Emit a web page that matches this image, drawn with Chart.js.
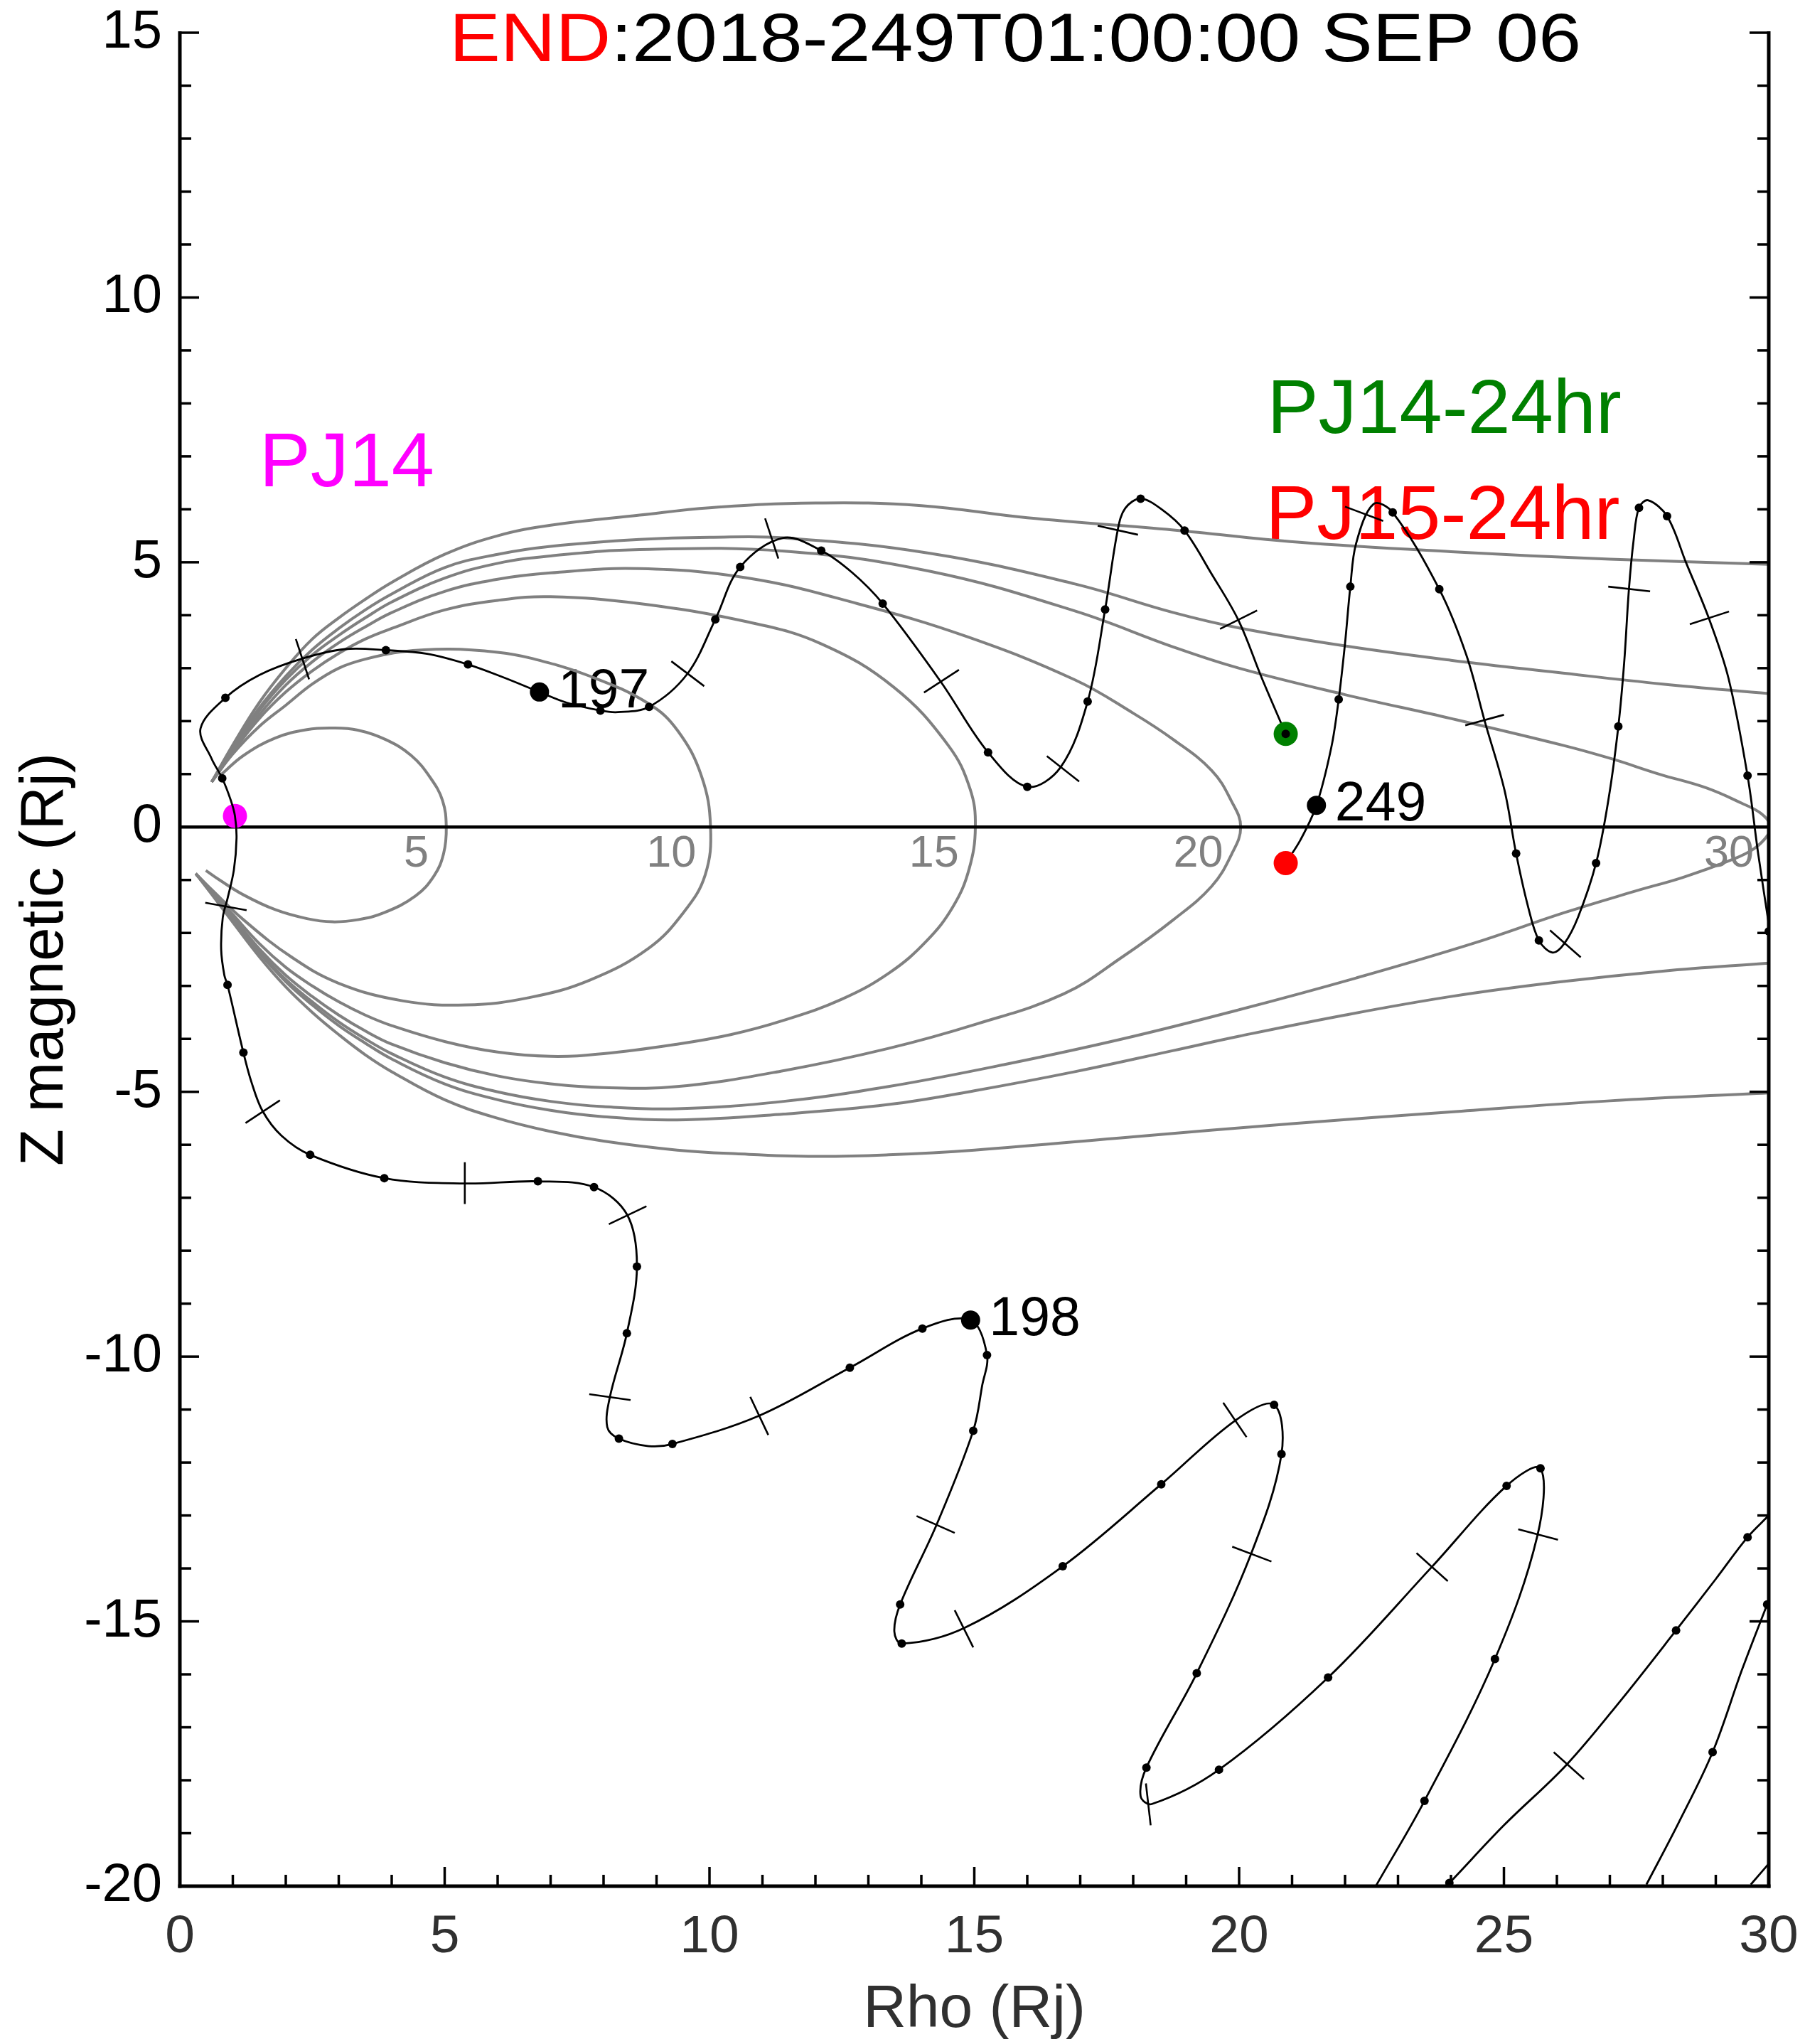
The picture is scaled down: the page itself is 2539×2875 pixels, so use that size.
<!DOCTYPE html>
<html>
<head>
<meta charset="utf-8">
<script src="https://cdn.jsdelivr.net/npm/chart.js@4.4.1/dist/chart.umd.min.js"></script>
<style>
  html, body { margin: 0; padding: 0; background: #fff; }
  canvas { display: block; }
</style>
</head>
<body>
<canvas id="orbitChart" width="2539" height="2875"></canvas>
<script>
// field lines, [rho, z] pairs
const fieldL5 = [[0.78,0.99],[1.2,1.35],[1.8,1.68],[2.4,1.84],[2.88,1.87],[3.36,1.83],[3.89,1.65],[4.37,1.35],[4.73,0.93],[4.96,0.5],[5.03,0],
  [4.98,-0.5],[4.8,-0.92],[4.45,-1.3],[3.85,-1.62],[3.36,-1.75],[2.88,-1.79],[2.4,-1.73],[1.8,-1.56],[1.2,-1.28],[0.75,-1.0],[0.49,-0.82]];
const fieldL10 = [[0.6,0.85],[1.0,1.38],[1.5,1.9],[2.0,2.3],[2.5,2.7],[3.0,3.0],[3.5,3.17],[4.19,3.31],[5.09,3.36],[6.0,3.3],[6.62,3.19],[7.74,2.85],[8.85,2.33],[9.4,1.82],[9.85,0.96],[10.02,0],
  [9.92,-0.9],[9.52,-1.6],[8.85,-2.29],[7.74,-2.89],[6.6,-3.22],[5.4,-3.36],[4.2,-3.28],[3.0,-2.95],[2.1,-2.45],[1.2,-1.75],[0.6,-1.18],[0.3,-0.88]];
const fieldL15 = [[0.6,0.85],[1.0,1.42],[1.5,2.05],[2.0,2.55],[2.5,2.95],[3.0,3.28],[3.5,3.55],[4.0,3.75],[5.0,4.1],[6.0,4.28],[7.0,4.35],[8.68,4.22],[10.74,3.87],[12.11,3.46],[13.48,2.64],[14.51,1.54],[14.92,0.72],[15.02,0],
  [14.9,-0.8],[14.6,-1.5],[14.1,-2.15],[13.4,-2.75],[12.5,-3.25],[11.4,-3.65],[10.4,-3.92],[9.39,-4.1],[8.0,-4.28],[7.0,-4.33],[6.0,-4.25],[5.0,-4.05],[4.0,-3.75],[3.5,-3.55],[3.0,-3.3],[2.5,-3.0],[2.0,-2.65],[1.5,-2.2],[1.0,-1.65],[0.6,-1.2],[0.3,-0.88]];
const fieldL20 = [[0.6,0.85],[1.0,1.45],[1.5,2.12],[2.0,2.68],[2.5,3.12],[3.0,3.48],[3.5,3.78],[4.0,4.05],[5.0,4.45],[6.0,4.68],[7.0,4.8],[8.68,4.88],[10.74,4.7],[12.79,4.22],[14.85,3.6],[16.9,2.78],[18.0,2.15],[18.76,1.65],[19.48,1.07],[19.85,0.5],[20.03,0],
  [19.85,-0.53],[19.48,-1.12],[18.76,-1.75],[17.8,-2.45],[16.69,-3.15],[15.04,-3.72],[13.38,-4.18],[11.4,-4.6],[9.39,-4.9],[8.0,-4.92],[7.0,-4.85],[6.0,-4.7],[5.0,-4.45],[4.0,-4.1],[3.5,-3.85],[3.0,-3.55],[2.5,-3.2],[2.0,-2.8],[1.5,-2.3],[1.0,-1.7],[0.6,-1.22],[0.3,-0.88]];
const fieldL30 = [[0.6,0.85],[1.0,1.48],[1.5,2.2],[2.0,2.78],[2.5,3.25],[3.0,3.62],[3.5,3.95],[4.0,4.25],[5.0,4.7],[6.0,4.98],[7.0,5.12],[8.68,5.24],[11.42,5.21],[14.16,4.83],[16.9,4.08],[18.76,3.4],[20.0,3.0],[22.0,2.5],[24.0,2.05],[26.13,1.54],[27.03,1.29],[27.93,1.0],[28.82,0.74],[29.49,0.45],[29.85,0.26],[30.03,0.04],
  [29.99,-0.14],[29.72,-0.41],[29.27,-0.63],[28.38,-0.95],[27.48,-1.21],[26.13,-1.62],[24.41,-2.2],[22.21,-2.85],[20.0,-3.45],[17.8,-4.0],[15.59,-4.48],[13.38,-4.9],[11.4,-5.18],[9.39,-5.32],[8.0,-5.28],[7.0,-5.18],[6.0,-5.0],[5.0,-4.72],[4.0,-4.28],[3.5,-4.0],[3.0,-3.68],[2.5,-3.3],[2.0,-2.88],[1.5,-2.35],[1.0,-1.73],[0.6,-1.24],[0.3,-0.88]];
const fieldOpenNorthA = [[0.6,0.85],[1.0,1.5],[1.5,2.25],[2.0,2.85],[2.5,3.35],[3.0,3.75],[3.5,4.1],[4.0,4.4],[5.0,4.9],[6.0,5.15],[7.0,5.3],[8.68,5.43],[10.0,5.47],[11.42,5.46],[14.16,5.17],[16.9,4.59],[18.76,4.05],[20.0,3.76],[22.0,3.42],[24.0,3.15],[26.0,2.92],[28.0,2.7],[30.0,2.52]];
const fieldOpenSouthA = [[0.3,-0.88],[0.6,-1.25],[1.0,-1.75],[1.5,-2.38],[2.0,-2.92],[2.5,-3.36],[3.0,-3.75],[3.5,-4.08],[4.0,-4.38],[5.0,-4.85],[6.0,-5.15],[7.0,-5.35],[8.0,-5.47],[9.39,-5.53],[11.4,-5.42],[13.38,-5.24],[15.0,-4.98],[16.9,-4.62],[18.76,-4.22],[20.0,-3.95],[22.0,-3.55],[24.0,-3.2],[26.0,-2.93],[28.0,-2.72],[30.0,-2.57]];
const fieldOpenNorthB = [[0.6,0.85],[1.0,1.55],[1.5,2.35],[2.0,3.0],[2.5,3.55],[3.0,3.95],[3.5,4.3],[4.0,4.62],[5.0,5.15],[6.0,5.5],[7.0,5.7],[8.68,5.89],[10.0,6.03],[12.0,6.12],[14.0,6.07],[16.0,5.84],[18.76,5.61],[21.1,5.38],[24.0,5.2],[27.0,5.06],[30.0,4.96]];
const fieldOpenSouthB = [[0.3,-0.88],[0.6,-1.27],[1.0,-1.8],[1.5,-2.45],[2.0,-3.02],[2.5,-3.5],[3.0,-3.92],[3.5,-4.3],[4.0,-4.62],[5.0,-5.15],[6.0,-5.5],[7.0,-5.75],[8.0,-5.93],[9.39,-6.1],[10.5,-6.17],[12.0,-6.22],[13.38,-6.19],[15.0,-6.1],[18.0,-5.85],[21.0,-5.6],[24.0,-5.38],[27.0,-5.17],[30.0,-5.02]];

const fieldLabels = ['5', '10', '15', '20', '30'];
const fieldLabelX = [4.70, 9.75, 14.71, 19.70, 29.72];
const fieldLabelY = -0.51;

const equatorLine = [[0, 0], [30, 0]];

// Juno trajectory, split where it leaves the frame
const orbitFromPJ14 = [[20.88,1.76],[20.43,2.81],[19.99,3.90],[19.48,4.78],[18.97,5.60],[18.55,5.99],[18.14,6.20],[17.85,6.02],[17.71,5.62],[17.47,4.11],[17.14,2.37],[16.63,1.13],[16.0,0.76],[15.26,1.41],[14.37,2.74],[13.27,4.22],[12.7,4.8],[12.11,5.22],[11.39,5.46],[10.58,4.91],[10.11,3.92],[9.58,2.89],[8.86,2.27],[8.27,2.17],[7.94,2.20],[7.3,2.35],[6.79,2.55],[6.1,2.83],[5.44,3.07],[4.67,3.27],[3.89,3.34],[3.12,3.36],[2.31,3.18],[1.5,2.87],[0.86,2.44],[0.39,1.86],[0.60,1.29],[0.80,0.92],[0.96,0.51],[1.04,0.21],[1.07,-0.21],[1.02,-0.81],[0.90,-1.35],[0.81,-1.71],[0.78,-2.31],[0.84,-2.80],[0.90,-2.98],[1.20,-4.26],[1.35,-4.81],[1.56,-5.36],[1.92,-5.83],[2.46,-6.19],[3.86,-6.63],[5.38,-6.73],[6.76,-6.69],[7.82,-6.80],[8.45,-7.33],[8.63,-8.30],[8.44,-9.56],[8.12,-10.76],[8.07,-11.33],[8.29,-11.55],[8.85,-11.69],[9.30,-11.65],[10.93,-11.12],[12.65,-10.21],[14.02,-9.47],[14.93,-9.31],[15.24,-9.97],[15.15,-10.54],[14.98,-11.40],[14.29,-13.17],[13.60,-14.68],[13.49,-15.19],[13.63,-15.42],[14.82,-15.12],[16.67,-13.96],[18.53,-12.41],[19.95,-11.19],[20.66,-10.91],[20.80,-11.84],[20.22,-13.74],[19.20,-15.98],[18.25,-17.76],[18.14,-18.3],[18.35,-18.45],[19.62,-17.80],[21.68,-16.06],[23.64,-13.97],[25.05,-12.44],[25.69,-12.11],[25.63,-13.39],[24.83,-15.71],[23.50,-18.39],[22.58,-20.0]];
const orbitReentry1 = [[23.9,-20.0],[23.97,-19.94],[25.0,-18.85],[26.18,-17.71],[27.2,-16.5],[28.25,-15.17],[29.0,-14.2],[29.60,-13.41],[30.0,-13.0]];
const orbitReentry2 = [[30.02,-14.55],[29.97,-14.68],[29.5,-15.9],[28.94,-17.47],[28.3,-18.8],[27.69,-19.97]];
const orbitCorner = [[29.66,-19.97],[30.04,-19.53]];
const orbitToPJ15 = [[30.02,-1.96],[29.80,-0.50],[29.60,0.97],[29.24,2.81],[28.87,3.94],[28.44,4.99],[28.08,5.87],[27.72,6.17],[27.55,6.03],[27.45,5.43],[27.36,4.49],[27.27,3.10],[27.16,1.90],[26.98,0.56],[26.74,-0.68],[26.40,-1.70],[26.14,-2.20],[25.92,-2.37],[25.66,-2.14],[25.45,-1.48],[25.23,-0.50],[25.01,0.70],[24.64,1.99],[24.29,3.25],[23.78,4.49],[22.90,5.94],[22.54,6.10],[22.21,5.36],[22.10,4.54],[22.0,3.47],[21.88,2.41],[21.74,1.50],[21.46,0.41],[21.16,-0.24],[20.88,-0.68]];

// cross ticks on the orbit: [x1, y1, x2, y2]
const orbitTicks = [
  [2.19,3.55,2.44,2.79],[0.48,-1.43,1.26,-1.57],[1.24,-5.59,1.89,-5.16],[5.38,-6.33,5.38,-7.12],[8.10,-7.50,8.81,-7.16],
  [7.73,-10.71,8.51,-10.82],[10.77,-10.76,11.11,-11.48],[13.91,-13.01,14.63,-13.33],[14.63,-14.79,14.98,-15.49],[19.70,-10.87,20.14,-11.52],
  [19.87,-13.59,20.61,-13.87],[18.24,-18.06,18.33,-18.85],[23.35,-13.71,23.94,-14.24],[25.27,-13.26,26.02,-13.46],[25.94,-17.47,26.51,-17.98],
  [9.28,3.13,9.90,2.66],[11.05,5.83,11.30,5.07],[14.05,2.54,14.71,2.97],[16.37,1.34,16.98,0.86],[17.33,5.69,18.09,5.52],
  [19.64,3.74,20.34,4.09],[22.0,6.05,22.72,5.78],[24.27,1.92,25.00,2.12],[25.87,-1.95,26.45,-2.46],[26.97,4.54,27.76,4.45],[28.51,3.83,29.25,4.07]
];

const hourDots = [[20.88,1.76],[18.97,5.60],[18.14,6.20],[17.47,4.11],[17.14,2.37],[16.0,0.76],[15.26,1.41],[13.27,4.22],[12.11,5.22],[10.58,4.91],[10.11,3.92],[8.86,2.27],[7.94,2.20],[5.44,3.07],[3.89,3.34],[0.86,2.44],[0.80,0.92],[0.90,-2.98],[1.20,-4.26],[2.46,-6.19],[3.86,-6.63],[6.76,-6.69],[7.82,-6.80],[8.63,-8.30],[8.44,-9.56],[8.29,-11.55],[9.30,-11.65],[12.65,-10.21],[14.02,-9.47],[15.24,-9.97],[14.98,-11.40],[13.60,-14.68],[13.63,-15.42],[16.67,-13.96],[18.53,-12.41],[20.66,-10.91],[20.80,-11.84],[19.20,-15.98],[18.25,-17.76],[19.62,-17.80],[21.68,-16.06],[25.05,-12.44],[25.69,-12.11],[24.83,-15.71],[23.50,-18.39],
  [23.97,-19.94],[28.25,-15.17],[29.60,-13.41],[29.97,-14.68],[28.94,-17.47],
  [30.0,-1.97],[29.60,0.97],[28.08,5.87],[27.55,6.03],[27.16,1.90],[26.74,-0.68],[25.66,-2.14],[25.23,-0.50],[23.78,4.49],[22.90,5.94],[22.10,4.54],[21.88,2.41]];

const dayMarks = [[6.79,2.55],[14.93,-9.31],[21.46,0.41]];
const dayLabels = ['197', '198', '249'];

const pj14Mark = [[1.04, 0.21]];
const pj14Minus24Mark = [[20.88, 1.76]];
const pj15Minus24Mark = [[20.88, -0.68]];

const pjLabels = ['PJ14', 'PJ14-24hr', 'PJ15-24hr'];
const pjLabelX = [1.50, 20.53, 20.50];
const pjLabelY = [6.43, 7.44, 5.44];
const pjColors = ['#ff00ff', '#008000', '#ff0000'];

const titleRed = 'END';
const titleBlack = ':2018-249T01:00:00 SEP 06';

const FONT = "'Liberation Sans', Arial, Helvetica, sans-serif";
const GRAY = '#808080';

const pts = arr => arr.map(p => ({ x: p[0], y: p[1] }));

function curve(arr, color, width, order) {
  return { data: pts(arr), showLine: true, borderColor: color, borderWidth: width,
    pointRadius: 0, tension: 0.4, order: order };
}

const datasets = [];
[fieldL5, fieldL10, fieldL15, fieldL20, fieldL30, fieldOpenNorthA, fieldOpenSouthA, fieldOpenNorthB, fieldOpenSouthB]
  .forEach(f => datasets.push(curve(f, GRAY, 4, 90)));
datasets.push(Object.assign(curve(equatorLine, '#000', 4.5, 80), { tension: 0 }));
datasets.push({ data: pts(pj14Mark), pointRadius: 17, backgroundColor: '#ff00ff', borderWidth: 0, order: 70 });
[orbitFromPJ14, orbitReentry1, orbitReentry2, orbitCorner, orbitToPJ15]
  .forEach(s => datasets.push(Object.assign(curve(s, '#000', 2.8, 60), { tension: 0.35 })));
orbitTicks.forEach(t => datasets.push({
  data: [{ x: t[0], y: t[1] }, { x: t[2], y: t[3] }], showLine: true, borderColor: '#000',
  borderWidth: 2.6, pointRadius: 0, tension: 0, order: 55
}));
datasets.push({ data: pts(pj14Minus24Mark), pointRadius: 17, backgroundColor: '#008000', borderWidth: 0, order: 50 });
datasets.push({ data: pts(pj15Minus24Mark), pointRadius: 17, backgroundColor: '#ff0000', borderWidth: 0, order: 50 });
datasets.push({ data: pts(hourDots), pointRadius: 6, backgroundColor: '#000', borderWidth: 0, order: 40 });
datasets.push({ data: pts(dayMarks), pointRadius: 13.5, backgroundColor: '#000', borderWidth: 0, order: 30 });

// text that sits under the curves
const labelPlugin = {
  id: 'orbitLabels',
  beforeDatasetsDraw(chart) {
    const { ctx, scales: { x, y } } = chart;
    ctx.save();
    ctx.font = `63px ${FONT}`;
    ctx.fillStyle = GRAY;
    ctx.textAlign = 'right';
    ctx.textBaseline = 'middle';
    fieldLabels.forEach((t, i) => ctx.fillText(t, x.getPixelForValue(fieldLabelX[i]), y.getPixelForValue(fieldLabelY)));

    ctx.font = `77px ${FONT}`;
    ctx.fillStyle = '#000';
    ctx.textAlign = 'left';
    dayLabels.forEach((t, i) => ctx.fillText(t, x.getPixelForValue(dayMarks[i][0] + 0.35), y.getPixelForValue(dayMarks[i][1])));

    ctx.font = `108px ${FONT}`;
    ctx.textBaseline = 'alphabetic';
    pjLabels.forEach((t, i) => {
      ctx.fillStyle = pjColors[i];
      ctx.fillText(t, x.getPixelForValue(pjLabelX[i]), y.getPixelForValue(pjLabelY[i]));
    });
    ctx.restore();
  }
};

// open frame with inward ticks on left, right and bottom
const framePlugin = {
  id: 'frame',
  afterDatasetsDraw(chart) {
    const { ctx, chartArea: a, scales: { x, y } } = chart;
    const seg = (x1, y1, x2, y2) => { ctx.beginPath(); ctx.moveTo(x1, y1); ctx.lineTo(x2, y2); ctx.stroke(); };
    ctx.save();
    ctx.strokeStyle = '#000';
    ctx.lineWidth = 3.5;
    for (let v = -20; v <= 15; v++) {
      const py = y.getPixelForValue(v);
      const len = v % 5 === 0 ? 27 : 16;
      seg(a.left, py, a.left + len, py);
      seg(a.right, py, a.right - len, py);
    }
    for (let v = 0; v <= 30; v++) {
      const px = x.getPixelForValue(v);
      const len = v % 5 === 0 ? 27 : 16;
      seg(px, a.bottom, px, a.bottom - len);
    }
    ctx.lineWidth = 5;
    seg(a.left, a.top - 2, a.left, a.bottom + 2.5);
    seg(a.right, a.top - 2, a.right, a.bottom + 2.5);
    seg(a.left - 2.5, a.bottom, a.right + 2.5, a.bottom);
    ctx.restore();
  }
};

const titlePlugin = {
  id: 'twoColourTitle',
  afterDraw(chart) {
    const { ctx } = chart;
    ctx.save();
    ctx.font = `96px ${FONT}`;
    const w = ctx.measureText(titleRed + titleBlack).width;
    ctx.translate(632, 86);
    ctx.scale((2224 - 632) / w, 1);
    ctx.textAlign = 'left';
    ctx.textBaseline = 'alphabetic';
    ctx.fillStyle = '#ff0000';
    ctx.fillText(titleRed, 0, 0);
    ctx.fillStyle = '#000';
    ctx.fillText(titleBlack, ctx.measureText(titleRed).width, 0);
    ctx.restore();
  }
};

new Chart(document.getElementById('orbitChart'), {
  type: 'scatter',
  data: { datasets },
  options: {
    responsive: false,
    animation: false,
    devicePixelRatio: 1,
    layout: { padding: { top: 46, right: 51, left: 0, bottom: 0 } },
    elements: { line: { capBezierPoints: false } },
    plugins: { legend: { display: false }, tooltip: { enabled: false }, title: { display: false } },
    scales: {
      x: {
        type: 'linear', position: 'bottom', min: 0, max: 30,
        grid: { display: false, drawTicks: false },
        border: { display: false },
        // padding 0 + tall line height keeps the label edge padding small
        ticks: { stepSize: 5, autoSkip: false, maxRotation: 0, padding: 0, color: '#303030', font: { family: FONT, size: 75, lineHeight: 1.93 } },
        title: { display: true, text: 'Rho (Rj)', color: '#303030', font: { family: FONT, size: 84, lineHeight: 1 }, padding: { top: 0, bottom: 5 } },
        afterFit(scale) { scale.height = 222; }
      },
      y: {
        type: 'linear', position: 'left', min: -20, max: 15,
        grid: { display: false, drawTicks: false },
        border: { display: false },
        ticks: { stepSize: 5, autoSkip: false, padding: 25, color: '#000', font: { family: FONT, size: 76, lineHeight: 0.3 } },
        title: { display: true, text: 'Z magnetic (Rj)', color: '#000', font: { family: FONT, size: 85, lineHeight: 1 }, padding: { top: 22, bottom: 0 } },
        afterFit(scale) { scale.width = 253; }
      }
    }
  },
  plugins: [labelPlugin, framePlugin, titlePlugin]
});
</script>
</body>
</html>
